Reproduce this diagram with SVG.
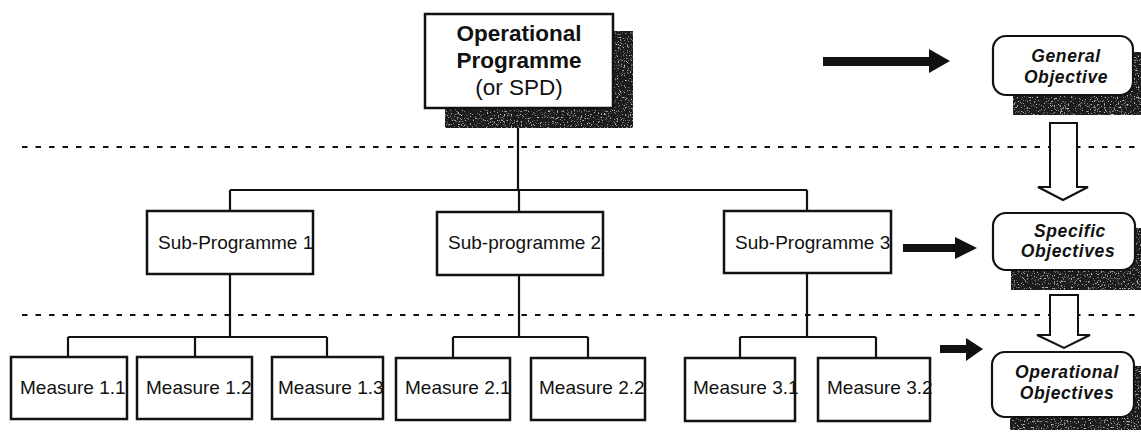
<svg xmlns="http://www.w3.org/2000/svg" width="1141" height="432" viewBox="0 0 1141 432">
  <defs>
    <!-- grainy dark fill for drop shadows -->
    <filter id="grain" x="0" y="0" width="100%" height="100%">
      <feTurbulence type="fractalNoise" baseFrequency="0.7" numOctaves="2" seed="7" result="noise"/>
      <feColorMatrix in="noise" type="matrix" values="0 0 0 0 0.55  0 0 0 0 0.55  0 0 0 0 0.55  6 0 0 0 -3.6" result="specks"/>
      <feComposite in="specks" in2="SourceGraphic" operator="in" result="clipped"/>
      <feMerge>
        <feMergeNode in="SourceGraphic"/>
        <feMergeNode in="clipped"/>
      </feMerge>
    </filter>
  </defs>
  <style>
    .box { fill: #fff; stroke: #111; stroke-width: 2.5; }
    .obj { fill: #fff; stroke: #111; stroke-width: 2.2; }
    .shadow { fill: #1c1c1c; filter: url(#grain); }
    .link { fill: none; stroke: #111; stroke-width: 2.2; }
    .dash { fill: none; stroke: #111; stroke-width: 2.2; stroke-dasharray: 5.5 8; }
    .solid-arrow { fill: #111; }
    .hollow-arrow { fill: #fff; stroke: #111; stroke-width: 2; }
    .lbl { font-family: "Liberation Sans", Arial, sans-serif; font-size: 19px; fill: #111; }
    .title { font-family: "Liberation Sans", Arial, sans-serif; font-size: 22.5px; fill: #111; text-anchor: middle; }
    .objtxt { font-family: "Liberation Sans", Arial, sans-serif; font-size: 17.5px; font-weight: bold; font-style: italic; fill: #111; text-anchor: middle; letter-spacing: 0.6px; }
  </style>

  <!-- level separators -->
  <g id="separators">
    <line class="dash" x1="22" y1="147" x2="1141" y2="147"/>
    <line class="dash" x1="22" y1="315" x2="1141" y2="315"/>
  </g>

  <!-- tree connectors -->
  <g id="connectors">
    <path class="link" d="M518 108 V190 M230 190 H807 M230 190 V211 M519 190 V212 M807 190 V211"/>
    <path class="link" d="M230 274 V337 M68 337 H327 M68 337 V357 M195 337 V357 M327 337 V357"/>
    <path class="link" d="M519 275 V337 M453 337 H588 M453 337 V358 M588 337 V358"/>
    <path class="link" d="M807 273 V337 M740 337 H876 M740 337 V358 M876 337 V358"/>
    <!-- arrows from the tree levels to the objectives -->
    <polygon class="solid-arrow" points="823,57 929,57 929,49 950,61 929,73 929,66 823,66"/>
    <polygon class="solid-arrow" points="903,244 955,244 955,237 977,248 955,259 955,252 903,252"/>
    <polygon class="solid-arrow" points="940,345 966,345 966,338 983,349 966,361 966,353 940,353"/>
    <!-- objective cascade -->
    <polygon class="hollow-arrow" points="1050,123 1077,123 1077,187 1088,187 1063,200 1038,187 1050,187"/>
    <polygon class="hollow-arrow" points="1050,295 1078,295 1078,335 1090,335 1064,348 1037,335 1050,335"/>
  </g>

  <g id="op">
    <rect class="shadow" x="445" y="31" width="188" height="97"/>
    <rect class="box" x="425" y="14" width="188" height="94"/>
    <text class="title" x="519" y="41" font-weight="bold">Operational</text>
    <text class="title" x="519" y="68" font-weight="bold">Programme</text>
    <text class="title" x="519" y="95">(or SPD)</text>
  </g>

  <g id="sp1">
    <rect class="box" x="147" y="211" width="166" height="63"/>
    <text class="lbl" x="158" y="249">Sub-Programme 1</text>
  </g>
  <g id="sp2">
    <rect class="box" x="437" y="212" width="166" height="63"/>
    <text class="lbl" x="448" y="249">Sub-programme 2</text>
  </g>
  <g id="sp3">
    <rect class="box" x="724" y="211" width="167" height="62"/>
    <text class="lbl" x="735" y="249">Sub-Programme 3</text>
  </g>

  <g id="m11">
    <rect class="box" x="11" y="357" width="116" height="62"/>
    <text class="lbl" x="20" y="394">Measure 1.1</text>
  </g>
  <g id="m12">
    <rect class="box" x="137" y="357" width="115" height="62"/>
    <text class="lbl" x="146" y="394">Measure 1.2</text>
  </g>
  <g id="m13">
    <rect class="box" x="272" y="357" width="111" height="62"/>
    <text class="lbl" x="278" y="394">Measure 1.3</text>
  </g>
  <g id="m21">
    <rect class="box" x="396" y="358" width="114" height="62"/>
    <text class="lbl" x="405" y="394">Measure 2.1</text>
  </g>
  <g id="m22">
    <rect class="box" x="531" y="358" width="114" height="62"/>
    <text class="lbl" x="539" y="394">Measure 2.2</text>
  </g>
  <g id="m31">
    <rect class="box" x="685" y="358" width="110" height="63"/>
    <text class="lbl" x="693" y="394">Measure 3.1</text>
  </g>
  <g id="m32">
    <rect class="box" x="818" y="358" width="112" height="63"/>
    <text class="lbl" x="827" y="394">Measure 3.2</text>
  </g>

  <g id="general-objective">
    <rect class="shadow" x="1013" y="52" width="140" height="63"/>
    <rect class="obj" x="993" y="36" width="140" height="59" rx="13"/>
    <text class="objtxt" x="1066" y="62">General</text>
    <text class="objtxt" x="1066" y="83">Objective</text>
  </g>
  <g id="specific-objectives">
    <rect class="shadow" x="1011" y="228" width="140" height="62"/>
    <rect class="obj" x="993" y="213" width="142" height="57" rx="13"/>
    <text class="objtxt" x="1070" y="237">Specific</text>
    <text class="objtxt" x="1068" y="257">Objectives</text>
  </g>
  <g id="operational-objectives">
    <rect class="shadow" x="1010" y="366" width="140" height="64"/>
    <rect class="obj" x="992" y="352" width="142" height="65" rx="13"/>
    <text class="objtxt" x="1067" y="378">Operational</text>
    <text class="objtxt" x="1067" y="399">Objectives</text>
  </g>
</svg>
